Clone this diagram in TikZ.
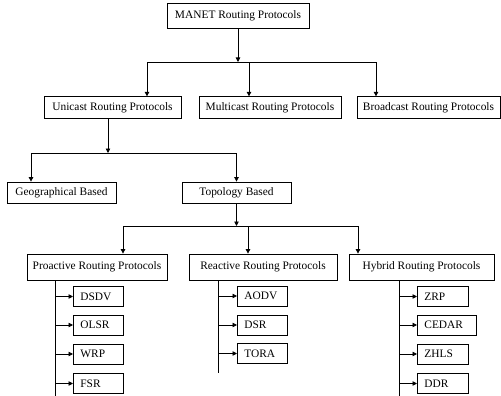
\documentclass[tikz,border=0pt]{standalone}
\usepackage{fontspec}
\setmainfont{Liberation Serif}
\usetikzlibrary{arrows.meta}
\tikzset{
	box/.style={draw, rectangle, inner sep=0pt, line width=0.8pt, font=\fontsize{11.4}{13}\selectfont},
	leaf/.style={box, anchor=west, inner xsep=7pt, text width=36pt, minimum height=20pt},
	link/.style={line width=0.8pt}
}
\begin{document}
\begin{tikzpicture}[x=1pt, y=-1pt, >={Triangle[length=4.5pt,width=4.5pt]}]
	% page: 501 x 396
	\useasboundingbox (0,0) rectangle (501,396);
	% level 1
	\node[box, minimum width=142pt, minimum height=25pt] (manet) at (238,15.5) {MANET Routing Protocols};
	% level 2
	\node[box, minimum width=137pt, minimum height=21.5pt] (uni) at (112.5,107.5) {Unicast Routing Protocols};
	\node[box, minimum width=142pt, minimum height=21.5pt] (multi) at (270,107.5) {Multicast Routing Protocols};
	\node[box, minimum width=143pt, minimum height=21.5pt] (broad) at (428.5,107.5) {Broadcast Routing Protocols};
	% level 3
	\node[box, minimum width=109pt, minimum height=21pt] (geo) at (61.5,192.5) {Geographical Based};
	\node[box, minimum width=109pt, minimum height=21pt] (topo) at (236.5,192.5) {Topology Based};
	% level 4
	\node[box, minimum width=140pt, minimum height=26pt] (pro) at (97,267) {Proactive Routing Protocols};
	\node[box, minimum width=148pt, minimum height=26pt] (rea) at (263,267) {Reactive Routing Protocols};
	\node[box, minimum width=145pt, minimum height=26pt] (hyb) at (421.5,267) {Hybrid Routing Protocols};
	% leaves
	\node[leaf] (dsdv) at (73,296.5) {DSDV};
	\node[leaf] (olsr) at (73,325) {OLSR};
	\node[leaf] (wrp) at (73,354) {WRP};
	\node[leaf] (fsr) at (73,383.5) {FSR};
	\node[leaf] (aodv) at (237,296) {AODV};
	\node[leaf] (dsr) at (237,325) {DSR};
	\node[leaf] (tora) at (237,353.5) {TORA};
	\node[leaf, text width=37pt] (zrp) at (417,296.5) {ZRP};
	\node[leaf, text width=45pt] (cedar) at (417,325) {CEDAR};
	\node[leaf, text width=37pt] (zhls) at (417,354) {ZHLS};
	\node[leaf, text width=37pt] (ddr) at (417,383.5) {DDR};
	
	% branch points and arrow ends
	\coordinate (j1) at (238,62);
	\coordinate (j2) at (108,153);
	\coordinate (j3) at (236.5,226);
	\coordinate (uniin) at ([xshift=34.5pt]uni.north);
	\coordinate (multiin) at ([xshift=-21pt]multi.north);
	\coordinate (broadin) at ([xshift=-52.5pt]broad.north);
	\coordinate (geoin) at ([xshift=-30.5pt]geo.north);
	\coordinate (proin) at ([xshift=26pt]pro.north);
	\coordinate (reain) at ([xshift=-15pt]rea.north);
	\coordinate (hybin) at ([xshift=-63.5pt]hyb.north);
	\coordinate (proend) at (55,396);
	\coordinate (reaend) at (218,373);
	\coordinate (hybend) at (399,396);
	
	% MANET -> unicast, multicast, broadcast
	\draw[link, ->] (manet) -- (j1);
	\draw[link, ->] (j1) -| (uniin);
	\draw[link, ->] (j1) -| (multiin);
	\draw[link, ->] (j1) -| (broadin);
	% unicast -> geographical, topology
	\draw[link, ->] (uni.south -| j2) -- (j2);
	\draw[link, ->] (j2) -| (geoin);
	\draw[link, ->] (j2) -| (topo.north);
	% topology -> proactive, reactive, hybrid
	\draw[link, ->] (topo) -- (j3);
	\draw[link, ->] (j3) -| (proin);
	\draw[link, ->] (j3) -| (reain);
	\draw[link, ->] (j3) -| (hybin);
	
	% spines
	\draw[link] (pro.south -| proend) -- (proend);
	\draw[link] (rea.south -| reaend) -- (reaend);
	\draw[link] (hyb.south -| hybend) -- (hybend);
	
	% proactive leaves
	\draw[link, ->] (dsdv.west -| proend) -- (dsdv);
	\draw[link, ->] (olsr.west -| proend) -- (olsr);
	\draw[link, ->] (wrp.west -| proend) -- (wrp);
	\draw[link, ->] (fsr.west -| proend) -- (fsr);
	% reactive leaves
	\draw[link, ->] (aodv.west -| reaend) -- (aodv);
	\draw[link, ->] (dsr.west -| reaend) -- (dsr);
	\draw[link, ->] (tora.west -| reaend) -- (tora);
	% hybrid leaves
	\draw[link, ->] (zrp.west -| hybend) -- (zrp);
	\draw[link, ->] (cedar.west -| hybend) -- (cedar);
	\draw[link, ->] (zhls.west -| hybend) -- (zhls);
	\draw[link, ->] (ddr.west -| hybend) -- (ddr);
\end{tikzpicture}
\end{document}
